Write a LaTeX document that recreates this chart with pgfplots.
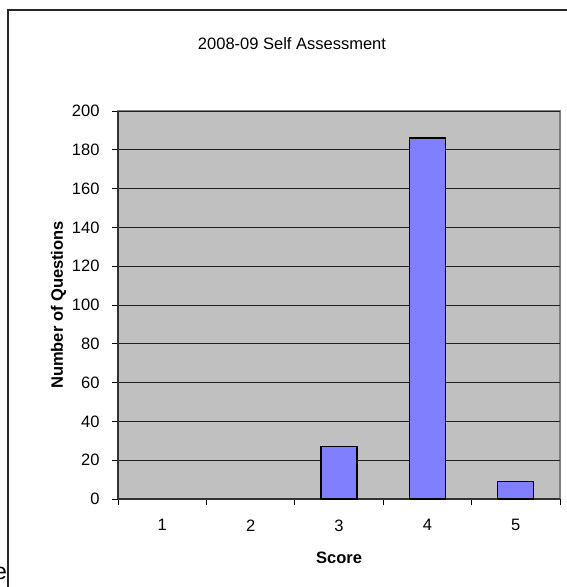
\documentclass[border=0pt]{standalone}
\usepackage{pgfplots}
\pgfplotsset{compat=1.18}
\usepackage{fontspec}
\setmainfont{Liberation Sans}

\definecolor{plotbg}{HTML}{C0C0C0}
\definecolor{plotborder}{HTML}{808080}
\definecolor{barfill}{HTML}{8080FF}
\definecolor{gridc}{HTML}{202020}

\newcommand{\chartfont}{\fontsize{16.5}{19}\selectfont}

\begin{document}
\begin{tikzpicture}[x=1pt,y=1pt]
\useasboundingbox (0,0) rectangle (566,587);

% chart frame (left and top edges)
\draw[line width=1.8pt, draw=black!85] (8,-5) -- (8,577) -- (580,577);

% stray glyph at the page edge
\node[anchor=base east, inner sep=0pt, font=\fontsize{23}{26}\selectfont] at (7.2,7) {e};

\begin{axis}[
  at={(118pt,88pt)}, anchor=south west,
  width=442pt, height=388pt, scale only axis,
  xmin=0.5, xmax=5.5, ymin=0, ymax=200,
  axis lines=left,
  axis line style={-, draw=black!80, line width=1.2pt},
  axis background/.style={fill=plotbg, draw=plotborder, line width=1.2pt},
  ybar, bar width=36pt, bar shift=0pt,
  ytick={0,20,...,200},
  xtick={0.5,1.5,...,5.5},
  xticklabels={},
  extra x ticks={1,2,3,4,5},
  extra x tick labels={1,2,3,4,5},
  extra x tick style={major tick length=0pt, xticklabel shift=17pt},
  tick align=outside,
  major tick length=6pt,
  tick style={draw=black, line width=0.9pt},
  ymajorgrids,
  grid style={draw=gridc, line width=0.9pt},
  yticklabel shift=9pt,
  ticklabel style={font=\chartfont},
  /pgf/number format/assume math mode=true,
  clip=false,
]
% scores with no questions are left undrawn
\addplot[fill=barfill, draw=black, line width=1.4pt,
         y filter/.expression={y<=0 ? nan : y}, unbounded coords=discard]
  coordinates {(1,0) (2,0) (3,27) (4,186) (5,9)};
\end{axis}

% titles and axis labels
\node[font=\chartfont] at (292,543.5) {2008-09 Self Assessment};
\node[font=\chartfont\bfseries, rotate=90] at (58.5,282) {Number of Questions};
\node[font=\chartfont\bfseries] at (339,29) {Score};
\end{tikzpicture}
\end{document}
